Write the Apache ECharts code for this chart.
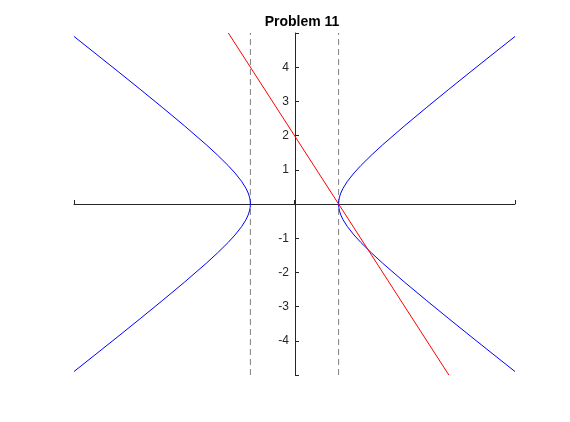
<!DOCTYPE html>
<html>
<head>
<meta charset="utf-8">
<script src="https://cdn.jsdelivr.net/npm/echarts@6/dist/echarts.min.js"></script>
<style>html,body{margin:0;padding:0;background:#fff;}#c{width:570px;height:422px;}</style>
</head>
<body>
<div id="c"></div>
<script>
// Right branch of the hyperbola (x^2 - y^2 = 1)
var rightX = [5, 4.5, 4, 3.5, 3, 2.5, 2, 1.75, 1.5, 1.35, 1.2, 1.1, 1.05, 1.02, 1.005, 1, 1.005, 1.02, 1.05, 1.1, 1.2, 1.35, 1.5, 1.75, 2, 2.5, 3, 3.5, 4, 4.5, 5];
var rightY = [-4.899, -4.387, -3.873, -3.354, -2.828, -2.291, -1.732, -1.436, -1.118, -0.907, -0.663, -0.458, -0.320, -0.201, -0.100, 0, 0.100, 0.201, 0.320, 0.458, 0.663, 0.907, 1.118, 1.436, 1.732, 2.291, 2.828, 3.354, 3.873, 4.387, 4.899];
// Left branch
var leftX = [-5, -4.5, -4, -3.5, -3, -2.5, -2, -1.75, -1.5, -1.35, -1.2, -1.1, -1.05, -1.02, -1.005, -1, -1.005, -1.02, -1.05, -1.1, -1.2, -1.35, -1.5, -1.75, -2, -2.5, -3, -3.5, -4, -4.5, -5];
var leftY = [-4.899, -4.387, -3.873, -3.354, -2.828, -2.291, -1.732, -1.436, -1.118, -0.907, -0.663, -0.458, -0.320, -0.201, -0.100, 0, 0.100, 0.201, 0.320, 0.458, 0.663, 0.907, 1.118, 1.436, 1.732, 2.291, 2.828, 3.354, 3.873, 4.387, 4.899];
// Red line
var lineX = [-1.5, 3.5];
var lineY = [5, -5];
// Dashed vertical lines
var dashLeftX = [-1, -1];
var dashRightX = [1, 1];
var dashY = [-5, 5];
var yTicks = [-4, -3, -2, -1, 1, 2, 3, 4];

function pairs(xs, ys) { return xs.map(function (x, i) { return [x, ys[i]]; }); }

var chart = echarts.init(document.getElementById('c'), null, { renderer: 'canvas' });
var axisColor = '#262626';
chart.setOption({
  animation: false,
  backgroundColor: '#ffffff',
  title: {
    text: 'Problem 11', left: 297, top: 10, textAlign: 'center',
    textStyle: { fontFamily: 'Liberation Sans', fontWeight: 'bold', fontSize: 14, color: '#000' }
  },
  grid: { left: 74, right: 55, top: 33, bottom: 47 },
  xAxis: {
    type: 'value', min: -5, max: 5, interval: 5,
    axisLine: { onZero: true, lineStyle: { color: axisColor, width: 1 } },
    axisTick: { show: true, inside: true, length: 4, lineStyle: { color: axisColor } },
    axisLabel: { show: false },
    splitLine: { show: false }
  },
  yAxis: {
    type: 'value', min: -5, max: 5, interval: 1,
    position: 'left', offset: -221,
    axisLine: { onZero: false, lineStyle: { color: axisColor, width: 1 } },
    axisTick: { show: true, inside: true, length: 4, lineStyle: { color: axisColor } },
    axisLabel: {
      margin: 6, fontFamily: 'Liberation Sans', fontSize: 12, color: axisColor,
      formatter: function (v) { return yTicks.indexOf(v) >= 0 ? String(v) : ''; }
    },
    splitLine: { show: false }
  },
  series: [
    { type: 'line', data: pairs(dashLeftX, dashY), showSymbol: false, lineStyle: { color: '#808080', width: 1, type: [6, 4] }, z: 1 },
    { type: 'line', data: pairs(dashRightX, dashY), showSymbol: false, lineStyle: { color: '#808080', width: 1, type: [6, 4] }, z: 1 },
    { type: 'line', data: pairs(rightX, rightY), showSymbol: false, lineStyle: { color: '#0000ff', width: 1 }, z: 2 },
    { type: 'line', data: pairs(leftX, leftY), showSymbol: false, lineStyle: { color: '#0000ff', width: 1 }, z: 2 },
    { type: 'line', data: pairs(lineX, lineY), showSymbol: false, lineStyle: { color: '#ff0000', width: 1 }, z: 3 }
  ]
});
</script>
</body>
</html>
